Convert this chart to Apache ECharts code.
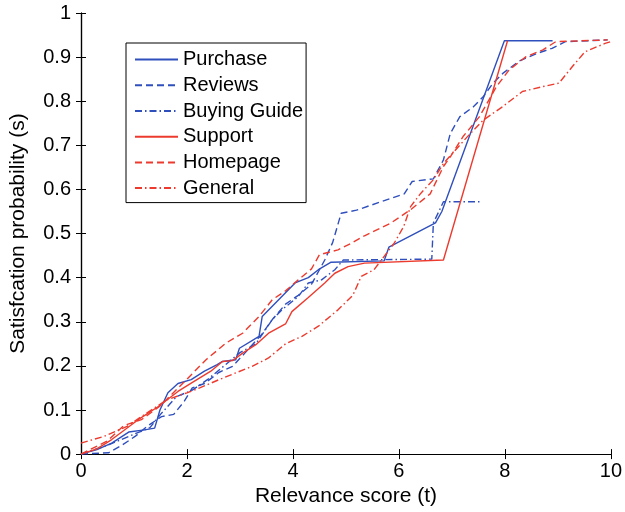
<!DOCTYPE html>
<html>
<head>
<meta charset="utf-8">
<script src="https://cdn.jsdelivr.net/npm/echarts@6/dist/echarts.min.js"></script>
<style>
html,body{margin:0;padding:0;background:#fff;}
#chart{width:625px;height:512px;}
</style>
</head>
<body>
<div id="chart"></div>
<script>
var xTicks = [0, 2, 4, 6, 8, 10];
var yTicks = [0, 0.1, 0.2, 0.3, 0.4, 0.5, 0.6, 0.7, 0.8, 0.9, 1];
var seriesNames = ['Purchase', 'Reviews', 'Buying Guide', 'Support', 'Homepage', 'General'];

var purchase = [[0,0],[0.3,0.01],[0.58,0.025],[0.9,0.05],[1.2,0.055],[1.39,0.059],[1.49,0.1],[1.64,0.139],[1.83,0.16],[2.08,0.169],[2.33,0.188],[2.57,0.203],[2.67,0.21],[2.92,0.214],[2.99,0.24],[3.36,0.267],[3.42,0.312],[3.73,0.35],[4.04,0.388],[4.29,0.4],[4.48,0.418],[4.72,0.435],[5.72,0.438],[5.81,0.469],[6.69,0.524],[6.81,0.55],[7.99,0.937],[8.9,0.937]];
var reviews = [[0,0],[0.52,0.003],[0.77,0.02],[1.02,0.04],[1.27,0.065],[1.52,0.085],[1.75,0.09],[1.95,0.12],[2.1,0.15],[2.33,0.16],[2.6,0.185],[2.86,0.199],[3.1,0.23],[3.4,0.27],[3.61,0.305],[3.86,0.34],[4.1,0.36],[4.35,0.385],[4.6,0.44],[4.75,0.48],[4.91,0.546],[5.2,0.553],[5.66,0.572],[6.1,0.59],[6.25,0.618],[6.65,0.624],[6.84,0.667],[6.97,0.727],[7.15,0.765],[7.4,0.787],[7.59,0.81],[7.77,0.84],[7.96,0.863],[8.27,0.891],[8.6,0.908],[8.89,0.92],[9.14,0.935],[9.94,0.939]];
var buyingGuide = [[0,0],[0.5,0.02],[1.0,0.045],[1.3,0.06],[1.5,0.09],[1.8,0.13],[2.1,0.145],[2.4,0.17],[2.7,0.2],[3.0,0.23],[3.3,0.25],[3.61,0.305],[3.79,0.327],[4.1,0.357],[4.29,0.388],[4.54,0.395],[4.79,0.418],[4.95,0.44],[6.62,0.442],[6.65,0.524],[6.84,0.572],[7.56,0.572]];
var support = [[0,0],[0.3,0.012],[0.58,0.033],[1.08,0.078],[1.46,0.108],[1.83,0.142],[2.08,0.161],[2.45,0.188],[2.67,0.21],[2.86,0.212],[3.05,0.229],[3.3,0.248],[3.54,0.274],[3.86,0.295],[3.98,0.323],[4.29,0.355],[4.6,0.388],[4.79,0.41],[5.04,0.425],[5.35,0.433],[6.84,0.44],[8.05,0.937]];
var homepage = [[0,0],[0.5,0.03],[0.81,0.065],[1.14,0.078],[1.5,0.11],[2.0,0.17],[2.36,0.214],[2.74,0.252],[3.05,0.274],[3.36,0.312],[3.61,0.35],[3.86,0.37],[4.1,0.395],[4.35,0.42],[4.5,0.452],[4.85,0.463],[5.1,0.478],[5.35,0.495],[5.85,0.524],[6.22,0.554],[6.59,0.59],[6.84,0.652],[6.97,0.674],[7.21,0.72],[7.52,0.765],[7.84,0.833],[8.08,0.871],[8.4,0.901],[8.71,0.916],[8.96,0.935],[9.94,0.939]];
var general = [[0,0.025],[0.43,0.04],[0.87,0.063],[1.24,0.093],[1.62,0.123],[2.0,0.139],[2.24,0.15],[2.61,0.169],[2.92,0.184],[3.23,0.199],[3.54,0.218],[3.86,0.25],[4.17,0.267],[4.48,0.29],[4.85,0.327],[5.13,0.36],[5.29,0.403],[5.53,0.418],[5.91,0.478],[6.09,0.516],[6.22,0.561],[6.41,0.591],[6.65,0.622],[6.84,0.659],[7.28,0.718],[7.59,0.757],[7.96,0.788],[8.33,0.822],[8.71,0.833],[9.02,0.841],[9.27,0.878],[9.51,0.912],[9.89,0.931],[10,0.935]];

var BLUE = '#2f4fbd';
var RED = '#ec3b2e';
var FONT = 'Liberation Sans';
var DASH = [7, 4];
var DASHDOT = [7, 3, 1.5, 3];

function mk(name, data, color, type) {
  return {
    name: name, type: 'line', data: data, symbol: 'none', smooth: false,
    lineStyle: { color: color, width: 1.4, type: type },
    itemStyle: { color: color },
    emphasis: { disabled: true }, animation: false
  };
}

var chart = echarts.init(document.getElementById('chart'), null, { renderer: 'canvas' });
var tickStyle = { show: true, inside: true, length: 5, lineStyle: { color: '#000', width: 1 } };
var lineStyle = { show: true, lineStyle: { color: '#000', width: 1.2 } };
chart.setOption({
  animation: false,
  backgroundColor: '#fff',
  grid: { left: 80, right: 10, top: 13, bottom: 57.5, containLabel: false },
  legend: {
    data: seriesNames,
    orient: 'vertical', left: 126, top: 43,
    backgroundColor: '#fff', borderColor: '#000', borderWidth: 1,
    padding: [6.6, 3, 4.5, 8],
    itemWidth: 43, itemHeight: 14, itemGap: 5.7,
    itemStyle: { opacity: 0, borderWidth: 0 },
    textStyle: { fontFamily: FONT, fontSize: 20, color: '#000' },
    selectedMode: false
  },
  xAxis: [{
    type: 'value', min: 0, max: 10, interval: 2, position: 'bottom',
    name: 'Relevance score (t)', nameLocation: 'middle', nameGap: 31,
    nameTextStyle: { fontFamily: FONT, fontSize: 21, color: '#000' },
    axisLine: lineStyle, axisTick: tickStyle, splitLine: { show: false },
    axisLabel: { fontFamily: FONT, fontSize: 20, color: '#000', margin: 7 }
  }, {
    type: 'value', min: 0, max: 10, interval: 2, position: 'top',
    axisLine: lineStyle, axisTick: tickStyle, splitLine: { show: false },
    axisLabel: { show: false }
  }],
  yAxis: [{
    type: 'value', min: 0, max: 1, interval: 0.1, position: 'left',
    name: 'Satisfcation probability (s)', nameLocation: 'middle', nameGap: 52,
    nameTextStyle: { fontFamily: FONT, fontSize: 21, color: '#000' },
    axisLine: lineStyle, axisTick: tickStyle, splitLine: { show: false },
    axisLabel: { fontFamily: FONT, fontSize: 20, color: '#000', margin: 10,
      formatter: function (v) { return String(Math.round(v * 10) / 10); } }
  }, {
    type: 'value', min: 0, max: 1, interval: 0.1, position: 'right',
    axisLine: lineStyle, axisTick: tickStyle, splitLine: { show: false },
    axisLabel: { show: false }
  }],
  series: [
    mk('Purchase', purchase, BLUE, 'solid'),
    mk('Reviews', reviews, BLUE, DASH),
    mk('Buying Guide', buyingGuide, BLUE, DASHDOT),
    mk('Support', support, RED, 'solid'),
    mk('Homepage', homepage, RED, DASH),
    mk('General', general, RED, DASHDOT)
  ]
});
</script>
</body>
</html>
